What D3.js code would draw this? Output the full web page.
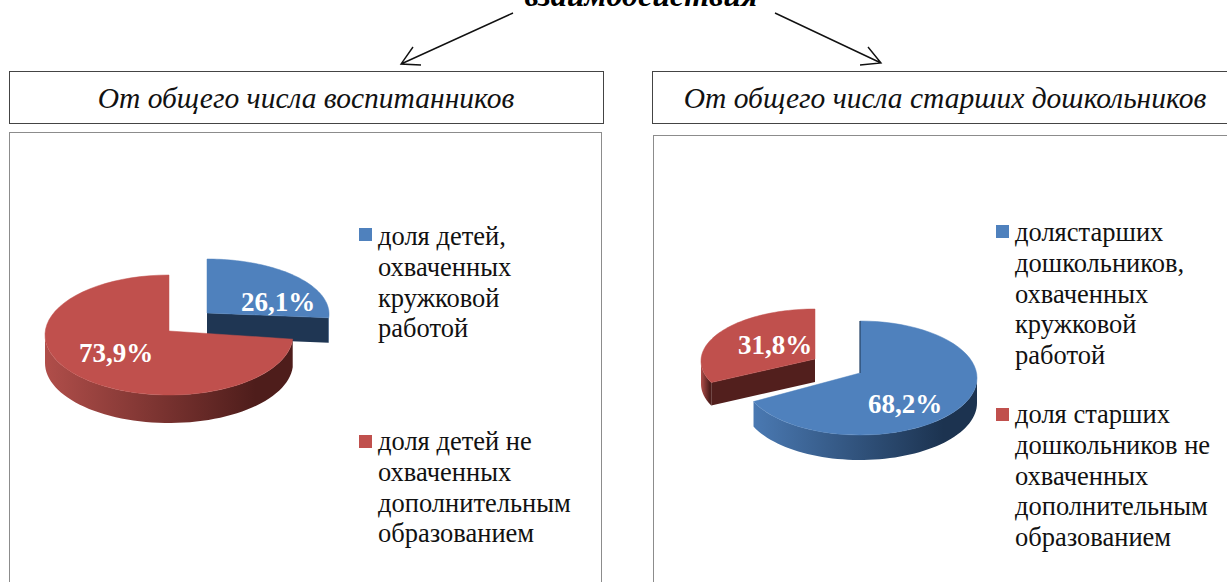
<!DOCTYPE html>
<html>
<head>
<meta charset="utf-8">
<script src="https://cdn.jsdelivr.net/npm/d3@7"></script>
<style>
  html, body { margin: 0; padding: 0; background: #fff; overflow: hidden; }
  text { font-family: "Liberation Serif", serif; }
</style>
</head>
<body>
<div id="chart"></div>
<script>
// Values
const allChildrenValues = [26.1, 73.9];
const allChildrenLabels = ["26,1%", "73,9%"];
const olderChildrenValues = [68.2, 31.8];
const olderChildrenLabels = ["68,2%", "31,8%"];

const titleText = "взаимодействия";
const leftHeader = "От общего числа воспитанников";
const rightHeader = "От общего числа старших дошкольников";

const leftLegend = [
  ["доля детей,", "охваченных", "кружковой", "работой"],
  ["доля детей не", "охваченных", "дополнительным", "образованием"]
];
const rightLegend = [
  ["долястарших", "дошкольников,", "охваченных", "кружковой", "работой"],
  ["доля старших", "дошкольников не", "охваченных", "дополнительным", "образованием"]
];

const width = 1227;
const height = 582;
const blue = "#4f81bd";
const red = "#c0504d";
const blueDark = "#1f3653";
const redDark = "#521f1d";

const svg = d3.select("#chart").append("svg")
  .attr("width", width)
  .attr("height", height)
  .attr("viewBox", [0, 0, width, height])
  .style("display", "block");

// Horizontal shading of the pie rims
const defs = svg.append("defs");
function rimGradient(id, from, to) {
  const g = defs.append("linearGradient").attr("id", id);
  g.append("stop").attr("offset", "0%").attr("stop-color", from);
  g.append("stop").attr("offset", "85%").attr("stop-color", to);
}
rimGradient("rimRed", "#b04e4a", "#4e1d1b");
rimGradient("rimBlue", "#4a79b2", "#1c3350");

// Title, clipped by the top of the picture
svg.append("text")
  .attr("x", 641).attr("y", 6)
  .attr("text-anchor", "middle")
  .attr("font-size", 32).attr("font-weight", "bold").attr("font-style", "italic")
  .text(titleText);

// Arrows from the title
const arrowLine = d3.line();
function arrow(from, tip, head1, head2) {
  svg.append("path")
    .attr("d", arrowLine([from, tip]) + arrowLine([head1, tip, head2]))
    .attr("fill", "none").attr("stroke", "#111").attr("stroke-width", 1.4);
}
arrow([513, 13], [401, 64], [413, 47], [421, 65]);
arrow([775, 13], [881, 63], [868, 47], [860, 65]);

// Header and frame boxes
function box(x, y, w, h, stroke) {
  svg.append("rect")
    .attr("x", x).attr("y", y).attr("width", w).attr("height", h)
    .attr("fill", "none").attr("stroke", stroke).attr("stroke-width", 1);
}
box(9.5, 71.5, 594, 52, "#444");
box(652.5, 71.5, 600, 52, "#444");
box(9.5, 132.5, 592, 480, "#8c8c8c");
box(653.5, 135.5, 600, 480, "#8c8c8c");

function header(x, str) {
  svg.append("text")
    .attr("x", x).attr("y", 108)
    .attr("text-anchor", "middle")
    .attr("font-size", 29.5).attr("font-style", "italic")
    .attr("fill", "#111")
    .text(str);
}
header(306, leftHeader);
header(945, rightHeader);

// Pie angles come from d3.pie, clockwise from twelve o'clock
const pie = d3.pie().sort(null).value(d => d);
const outline = d3.line();

function project(s, a) {
  return [s.cx + s.rx * Math.sin(a), s.cy - s.ry * Math.cos(a)];
}
function arcPoints(s, a0, a1, dy) {
  return d3.range(0, 61).map(i => {
    const p = project(s, a0 + (a1 - a0) * i / 60);
    return [p[0], p[1] + dy];
  });
}

function drawSlice(arc, s) {
  const g = svg.append("g");
  const vertex = [s.cx, s.cy - s.dv];
  const vertexLow = [s.cx, s.cy - s.dv + s.depth];

  // Cut face, seen when the slice opens toward the viewer
  if (s.cutAngle !== undefined) {
    const edge = project(s, s.cutAngle);
    g.append("path")
      .attr("d", outline([vertex, edge, [edge[0], edge[1] + s.depth], vertexLow]) + "Z")
      .attr("fill", s.dark);
  }

  // Outer rim, only the front half of the ellipse shows
  const a0 = Math.max(arc.startAngle, Math.PI / 2);
  const a1 = Math.min(arc.endAngle, Math.PI * 1.5);
  if (a1 > a0) {
    const top = arcPoints(s, a0, a1, 0);
    const bottom = arcPoints(s, a1, a0, s.depth);
    g.append("path")
      .attr("d", outline(top.concat(bottom)) + "Z")
      .attr("fill", `url(#${s.rim})`);
  }

  // Top face
  g.append("path")
    .attr("d", outline([vertex].concat(arcPoints(s, arc.startAngle, arc.endAngle, 0))) + "Z")
    .attr("fill", s.color)
    .attr("stroke", s.color).attr("stroke-width", 0.5);

  if (s.edgeLine) {
    const edge = project(s, arc.startAngle);
    g.append("path")
      .attr("d", outline([vertex, edge]))
      .attr("stroke", s.dark).attr("stroke-width", 1).attr("fill", "none");
  }
}

function dataLabel(x, y, str) {
  svg.append("text")
    .attr("x", x).attr("y", y)
    .attr("text-anchor", "middle")
    .attr("font-size", 27).attr("font-weight", "bold")
    .attr("fill", "#fff")
    .text(str);
}

// Left pie: the blue slice is pulled out
const leftArcs = pie(allChildrenValues);
drawSlice(leftArcs[0], {
  cx: 207, cy: 314, rx: 122, ry: 55, dv: 1, depth: 25,
  color: blue, dark: blueDark, rim: "rimBlue", cutAngle: leftArcs[0].endAngle
});
drawSlice(leftArcs[1], {
  cx: 169, cy: 335, rx: 124, ry: 60, dv: 4, depth: 28,
  color: red, dark: redDark, rim: "rimRed"
});
dataLabel(278, 311, allChildrenLabels[0]);
dataLabel(116, 362, allChildrenLabels[1]);

// Right pie: the red slice is pulled out
const rightArcs = pie(olderChildrenValues);
drawSlice(rightArcs[1], {
  cx: 815, cy: 361, rx: 114, ry: 52, dv: 2, depth: 23,
  color: red, dark: redDark, rim: "rimRed", cutAngle: rightArcs[1].startAngle
});
drawSlice(rightArcs[0], {
  cx: 860, cy: 378, rx: 117, ry: 57, dv: 5, depth: 25,
  color: blue, dark: blueDark, rim: "rimBlue", edgeLine: true
});
dataLabel(905, 413, olderChildrenLabels[0]);
dataLabel(775, 354, olderChildrenLabels[1]);

// Legends
function legendEntry(x, swatchY, firstBaseline, lines, color) {
  svg.append("rect")
    .attr("x", x).attr("y", swatchY)
    .attr("width", 13).attr("height", 13)
    .attr("fill", color);
  svg.append("g").selectAll("text")
    .data(lines)
    .join("text")
    .attr("x", x + 19)
    .attr("y", (d, i) => firstBaseline + i * 30.8)
    .attr("font-size", 26.5)
    .attr("fill", "#111")
    .text(d => d);
}
legendEntry(359, 228, 245, leftLegend[0], blue);
legendEntry(359, 435, 450, leftLegend[1], red);
legendEntry(996, 225, 241, rightLegend[0], blue);
legendEntry(996, 408, 423, rightLegend[1], red);
</script>
</body>
</html>
